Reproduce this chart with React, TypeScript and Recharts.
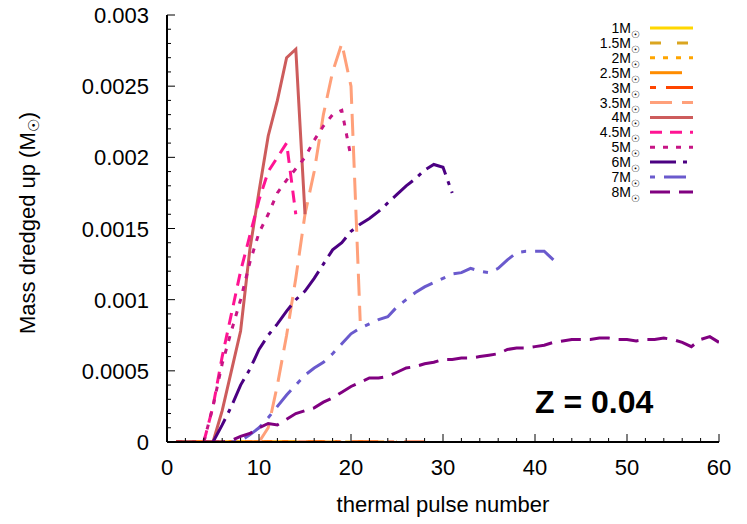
import React from "react";
import { LineChart, Line, XAxis, YAxis, Legend } from "recharts";

// initial mass of each model (in solar masses)
const massLabels = ["1", "1.5", "2", "2.5", "3", "3.5", "4", "4.5", "5", "6", "7", "8"];

// thermal pulse number of the first value in each series
const firstPulse = [1, 1, 1, 1, 1, 10, 5, 4, 4, 5, 7, 1];

// mass dredged up per thermal pulse (Msun)
const dredge1 = [0, 0, 0, 0, 0, 0, 0, 0, 0, 0, 0, 0, 0, 0];
const dredge15 = [0, 0, 0, 0, 0, 0, 0, 0, 0, 0, 0, 0, 0, 0, 0, 0, 0, 0];
const dredge2 = [0, 0, 0, 0, 0, 0, 0, 0, 0, 0, 0, 0, 0, 0, 0, 0, 0, 0, 0, 0, 0, 0];
const dredge25 = [0, 0, 0, 0, 0, 0, 0, 0, 0, 0, 0, 0, 0, 0, 0, 0, 0, 0, 0, 0, 0, 0, 0, 0, 0];
const dredge3 = [0, 0, 0, 0, 0, 0, 0, 0, 0, 0, 0, 0, 0, 0, 0, 0, 0, 0, 0, 0, 0, 0, 0, 0, 0, 0, 0, 0];
const dredge35 = [0, 0.0001, 0.0004, 0.00075, 0.00115, 0.0016, 0.0019, 0.0023, 0.0026, 0.0028, 0.0025, 0.00085];
const dredge4 = [0, 0.00022, 0.0005, 0.00078, 0.00135, 0.00176, 0.00215, 0.0024, 0.0027, 0.00276, 0.0016];
const dredge45 = [0, 0.00025, 0.0006, 0.0009, 0.0012, 0.00145, 0.0017, 0.0019, 0.002, 0.0021, 0.0016];
const dredge5 = [
  0, 0.00025, 0.00055, 0.00078, 0.001, 0.00126, 0.00147, 0.0016, 0.00175, 0.00184, 0.00192, 0.002,
  0.00212, 0.00222, 0.0023, 0.00233, 0.002,
];
const dredge6 = [
  0, 0.00012, 0.00025, 0.0004, 0.00051, 0.00065, 0.00075, 0.00083, 0.00092, 0.001, 0.00106, 0.00115,
  0.00125, 0.00135, 0.0014, 0.00148, 0.00153, 0.00157, 0.00162, 0.00168, 0.00174, 0.0018, 0.00185,
  0.00191, 0.00195, 0.00193, 0.00175,
];
const dredge7 = [
  0, 0.00001, 0.00005, 0.0001, 0.00017, 0.00025, 0.00033, 0.0004, 0.00047, 0.00052, 0.00056, 0.00062,
  0.00069, 0.00076, 0.0008, 0.00083, 0.00086, 0.00088, 0.00095, 0.001, 0.00105, 0.00109, 0.00112,
  0.00115, 0.00118, 0.00119, 0.00122, 0.0012, 0.00119, 0.00122, 0.00128, 0.00133, 0.00134, 0.00134,
  0.00134, 0.00128,
];
const dredge8 = [
  0, 0, 0, 0, 0, 0, 0.00001, 0.00004, 0.00006, 0.0001, 0.00013, 0.00012, 0.00016, 0.0002, 0.00022,
  0.00024, 0.00028, 0.00031, 0.00035, 0.00039, 0.00042, 0.00045, 0.00045, 0.00046, 0.00049, 0.00052,
  0.00053, 0.00055, 0.00056, 0.00058, 0.00058, 0.00059, 0.00059, 0.0006, 0.00061, 0.00062, 0.00065,
  0.00066, 0.00066, 0.00067, 0.00068, 0.0007, 0.00071, 0.00072, 0.00072, 0.00072, 0.00073, 0.00073,
  0.00072, 0.00072, 0.00071, 0.00072, 0.00072, 0.00073, 0.00072, 0.0007, 0.00067, 0.00072, 0.00074,
  0.0007,
];

const allValues = [
  dredge1, dredge15, dredge2, dredge25, dredge3, dredge35,
  dredge4, dredge45, dredge5, dredge6, dredge7, dredge8,
];

const xMajorTicks = [0, 10, 20, 30, 40, 50, 60];
const yMajorTicks = [0, 0.0005, 0.001, 0.0015, 0.002, 0.0025, 0.003];

// minor ticks every 2 pulses / every 0.0001
const xTicks: number[] = [];
for (let i = 0; i <= 30; i++) xTicks.push(i * 2);
const yTicks: number[] = [];
for (let i = 0; i <= 30; i++) yTicks.push(i / 10000);

const colors = [
  "#ffd700", "#daa520", "#ffa500", "#ff8c00", "#ff4500", "#ffa07a",
  "#cd5c5c", "#ff1493", "#c71585", "#4b0082", "#6a5acd", "#800080",
];
const dashes = [
  undefined, "11 16", "5 8", "32 12", "6 10 27 10", "22 10",
  undefined, "12 8", "5 8", "26 7 4 7", "5 9 22 9", "20 9",
];

const series = allValues.map((vals, s) =>
  vals.map((v, i) => ({ pulse: firstPulse[s] + i, value: v }))
);

const FONT = '"Liberation Sans", Arial, Helvetica, sans-serif';
const SUN = "\u2609";

const BottomTick = (props: any) => {
  const { x, y, payload } = props;
  const major = xMajorTicks.includes(payload.value);
  return (
    <g>
      <line x1={x} x2={x} y1={y} y2={y - (major ? 8 : 4)} stroke="#000" strokeWidth={1} />
      {major && (
        <text x={x} y={y + 33} textAnchor="middle" fontSize={22} fill="#000" fontFamily={FONT}>
          {payload.value}
        </text>
      )}
    </g>
  );
};

const TopTick = (props: any) => {
  const { x, y, payload } = props;
  const major = xMajorTicks.includes(payload.value);
  return <line x1={x} x2={x} y1={y} y2={y + (major ? 8 : 4)} stroke="#000" strokeWidth={1} />;
};

const LeftTick = (props: any) => {
  const { x, y, payload } = props;
  const major = yMajorTicks.includes(payload.value);
  return (
    <g>
      <line x1={x} x2={x + (major ? 8 : 4)} y1={y} y2={y} stroke="#000" strokeWidth={1} />
      {major && (
        <text x={x - 18} y={y + 8} textAnchor="end" fontSize={22} fill="#000" fontFamily={FONT}>
          {String(payload.value)}
        </text>
      )}
    </g>
  );
};

const RightTick = (props: any) => {
  const { x, y, payload } = props;
  const major = yMajorTicks.includes(payload.value);
  return <line x1={x} x2={x - (major ? 8 : 4)} y1={y} y2={y} stroke="#000" strokeWidth={1} />;
};

const MassLegend = () => (
  <svg width={150} height={190} style={{ display: "block" }}>
    {massLabels.map((m, i) => {
      const cy = 10 + i * 14.9;
      return (
        <g key={m}>
          <text x={80} y={cy + 5} textAnchor="end" fontSize={14} fill="#000" fontFamily={FONT}>
            {m}M
            <tspan fontSize={10} dy={5}>
              {SUN}
            </tspan>
          </text>
          <line
            x1={90}
            x2={133}
            y1={cy}
            y2={cy}
            stroke={colors[i]}
            strokeWidth={3}
            strokeDasharray={dashes[i]}
          />
        </g>
      );
    })}
  </svg>
);

export default function App() {
  return (
    <div style={{ position: "absolute", left: 0, top: 0, width: 747, height: 524, background: "#fff", fontFamily: FONT }}>
      <LineChart width={747} height={524} margin={{ top: 15, right: 28, bottom: 0, left: 7 }}>
        <XAxis
          dataKey="pulse"
          type="number"
          domain={[0, 60]}
          allowDataOverflow
          ticks={xTicks}
          interval={0}
          tickSize={0}
          tickMargin={0}
          tick={<BottomTick />}
          axisLine={{ stroke: "#000", strokeWidth: 2 }}
          height={82}
          label={{
            content: () => (
              <text x={443} y={512} textAnchor="middle" fontSize={22} fill="#000" fontFamily={FONT}>
                thermal pulse number
              </text>
            ),
          }}
        />
        <XAxis
          xAxisId="top"
          orientation="top"
          dataKey="pulse"
          type="number"
          domain={[0, 60]}
          allowDataOverflow
          ticks={xTicks}
          interval={0}
          tickSize={0}
          tickMargin={0}
          tick={<TopTick />}
          axisLine={{ stroke: "#000", strokeWidth: 2 }}
          height={0}
        />
        <YAxis
          type="number"
          domain={[0, 0.003]}
          allowDataOverflow
          ticks={yTicks}
          interval={0}
          tickSize={0}
          tickMargin={0}
          tick={<LeftTick />}
          axisLine={{ stroke: "#000", strokeWidth: 2 }}
          width={160}
          label={{
            content: () => (
              <text
                x={35}
                y={223}
                transform="rotate(-90, 35, 223)"
                textAnchor="middle"
                fontSize={22}
                fill="#000"
                fontFamily={FONT}
              >
                Mass dredged up (M
                <tspan fontSize={15} dy={4}>
                  {SUN}
                </tspan>
                <tspan dy={-4}>)</tspan>
              </text>
            ),
          }}
        />
        <YAxis
          yAxisId="right"
          orientation="right"
          type="number"
          domain={[0, 0.003]}
          allowDataOverflow
          ticks={yTicks}
          interval={0}
          tickSize={0}
          tickMargin={0}
          tick={<RightTick />}
          axisLine={{ stroke: "#000", strokeWidth: 2 }}
          width={0}
        />
        {series.map((rows, s) => (
          <Line
            key={massLabels[s]}
            data={rows}
            dataKey="value"
            name={massLabels[s] + "M"}
            type="linear"
            stroke={colors[s]}
            strokeWidth={3}
            strokeDasharray={dashes[s]}
            dot={false}
            activeDot={false}
            isAnimationActive={false}
          />
        ))}
        <Legend
          layout="vertical"
          align="center"
          verticalAlign="middle"
          content={<MassLegend />}
          wrapperStyle={{ position: "absolute", left: 560, top: 18, width: 150, height: 190 }}
        />
      </LineChart>
      <svg width={747} height={524} style={{ position: "absolute", left: 0, top: 0, pointerEvents: "none" }}>
        <text x={535} y={413} fontSize={32} fontWeight="bold" fill="#000" fontFamily={FONT}>
          Z = 0.04
        </text>
      </svg>
    </div>
  );
}
